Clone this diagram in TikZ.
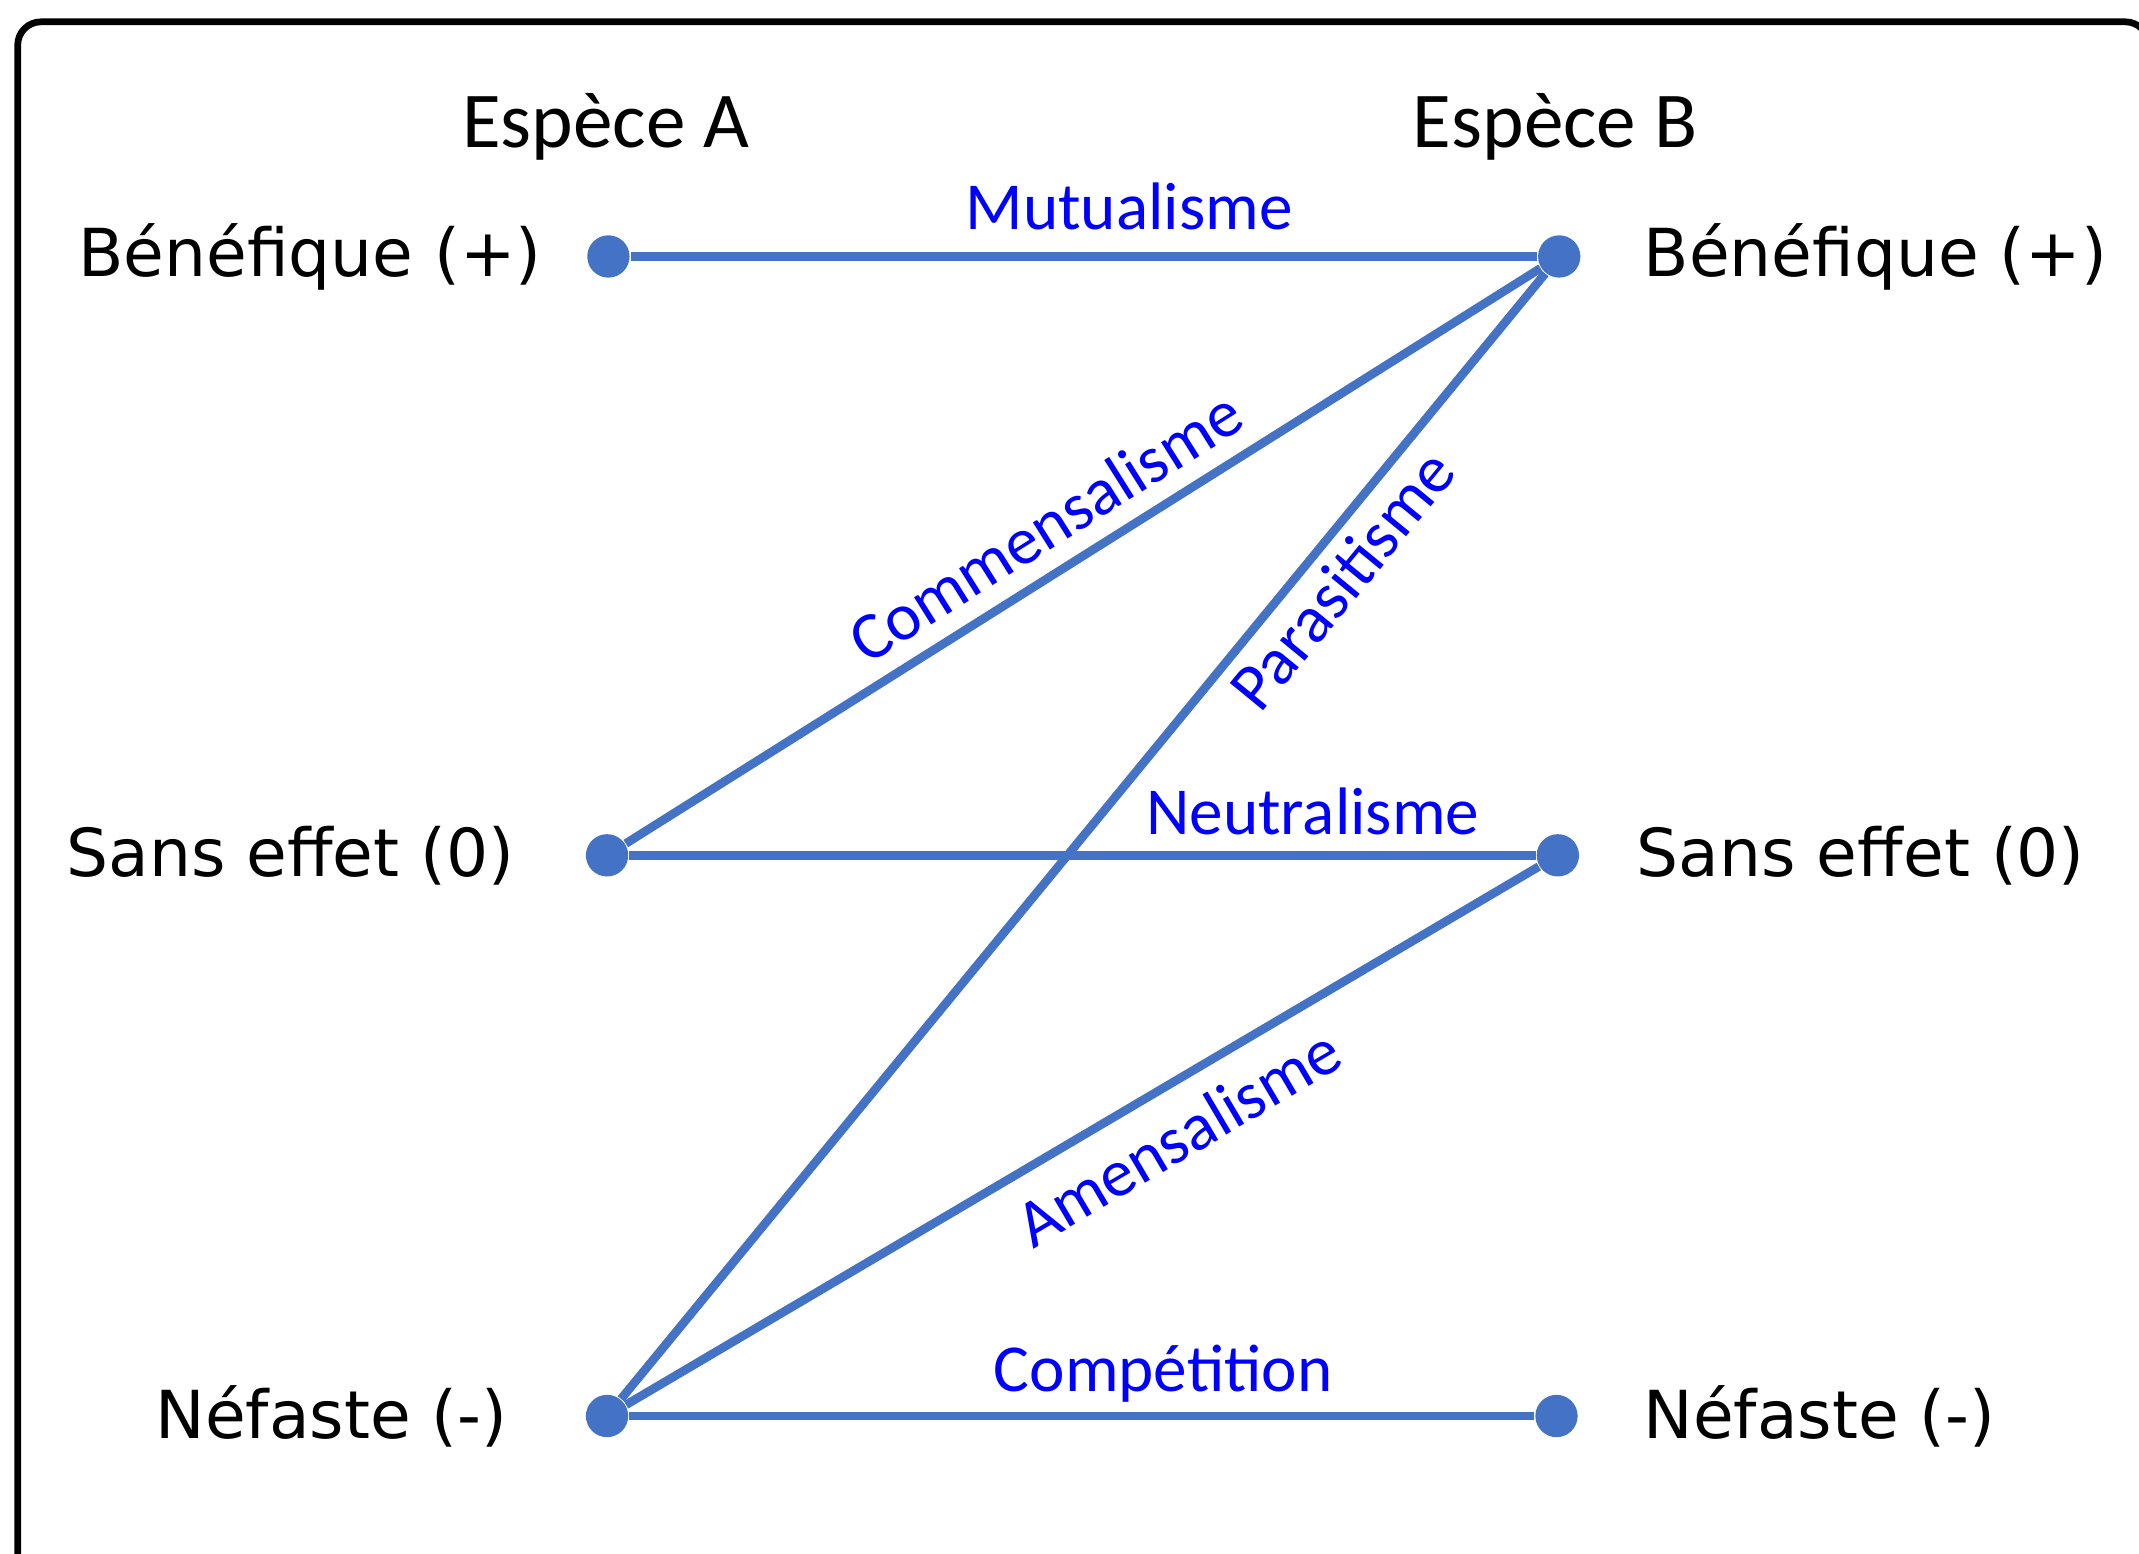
\documentclass[tikz,border=0pt]{standalone}
\usepackage{fontspec}
\setmainfont{DejaVu Sans}
\newfontfamily\carlito{Carlito}
\usetikzlibrary{positioning}
\definecolor{lineblue}{HTML}{4472C4}

\begin{document}
\begin{tikzpicture}[x=0.01cm, y=-0.01cm,
        dotnode/.style={circle, fill=lineblue, inner sep=0pt, minimum size=0.31cm},
        statenode/.style={inner sep=0pt, font=\fontsize{13.8}{16}\selectfont},
        titlenode/.style={inner sep=0pt, font=\carlito\fontsize{16.5}{19}\selectfont},
        relnode/.style={inner sep=0pt, text=blue, font=\carlito\fontsize{14}{17}\selectfont},
        link/.style={lineblue, line width=1.8pt},
    ]

    \useasboundingbox (0,0) rectangle (1568,1139);

    % frame
    \draw[line width=1.4pt, rounded corners=0.17cm] (13,1250) -- (13,16) -- (1575,16) -- (1575,1250);

    % titles
    \node[titlenode] (titleA) at (444,93) {Espèce A};
    \node[titlenode] (titleB) at (1140,93) {Espèce B};

    % species A
    \node[dotnode] (a1) at (446,188) {};
    \node[dotnode] (a2) at (445,627) {};
    \node[dotnode] (a3) at (445,1038) {};

    % species B
    \node[dotnode] (b1) at (1143,188) {};
    \node[dotnode] (b2) at (1142,627) {};
    \node[dotnode] (b3) at (1141,1038) {};

    % states
    \node[statenode, left=0.32cm of a1] (la1) {Bénéfique (+)};
    \node[statenode, left=0.51cm of a2] (la2) {Sans effet (0)};
    \node[statenode, left=0.56cm of a3] (la3) {Néfaste (-)};
    \node[statenode, right=0.45cm of b1] (lb1) {Bénéfique (+)};
    \node[statenode, right=0.41cm of b2] (lb2) {Sans effet (0)};
    \node[statenode, right=0.47cm of b3] (lb3) {Néfaste (-)};

    % relations
    \draw[link] (a1) -- node[relnode, pos=0.55, above=0.16cm] (mutu) {Mutualisme} (b1);
    \draw[link] (a2) -- node[relnode, pos=0.485, sloped, above=0.13cm] (comm) {Commensalisme} (b1);
    \draw[link] (a3) -- node[relnode, pos=0.749, sloped, below=0.07cm] (para) {Parasitisme} (b1);
    \draw[link] (a2) -- node[relnode, pos=0.754, above=0.12cm] (neut) {Neutralisme} (b2);
    \draw[link] (a3) -- node[relnode, pos=0.577, sloped, below=0.16cm] (amen) {Amensalisme} (b2);
    \draw[link] (a3) -- node[relnode, pos=0.59, above=0.07cm] (comp) {Compétition} (b3);

\end{tikzpicture}
\end{document}
